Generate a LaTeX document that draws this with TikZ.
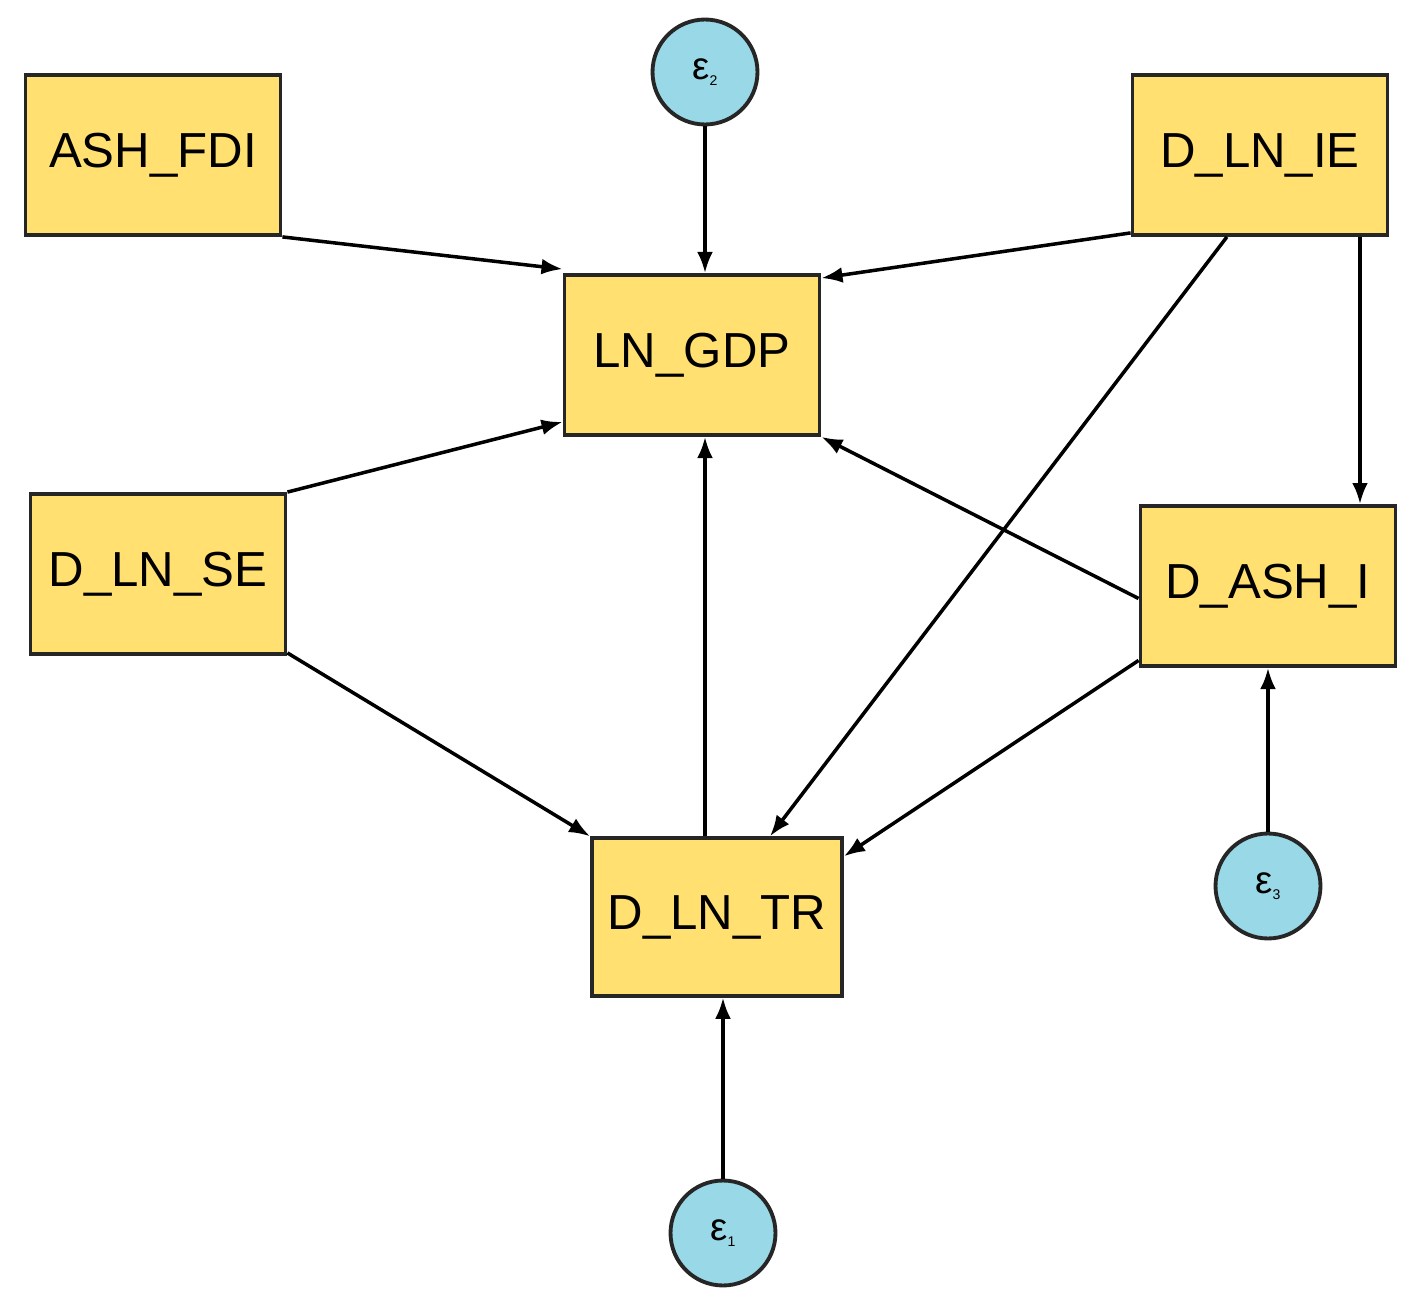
\documentclass[tikz,border=0pt]{standalone}
\usepackage{fontspec}
\setmainfont{Liberation Sans}
\usetikzlibrary{arrows.meta}
\begin{document}
\begin{tikzpicture}[x=0.02cm,y=-0.02cm,
 box/.style={draw=black!85,line width=2.2pt,fill={rgb,255:red,255;green,224;blue,112},minimum width=5.1cm,minimum height=3.2cm,inner sep=0pt,font=\fontsize{28}{32}\selectfont},
 err/.style={circle,draw=black!85,line width=2.2pt,fill={rgb,255:red,153;green,216;blue,230},minimum size=2.1cm,inner sep=0pt,font=\fontsize{22}{24}\selectfont},
 arr/.style={line width=2pt,-{Latex[length=12pt,width=9pt]}}]
\useasboundingbox (0,0) rectangle (1421,1304);
\node[box] (fdi) at (153,155) {ASH\_FDI};
\node[box] (gdp) at (692,355) {LN\_GDP};
\node[box] (ie) at (1260,155) {D\_LN\_IE};
\node[box] (se) at (158,574) {D\_LN\_SE};
\node[box] (ashi) at (1268,586) {D\_ASH\_I};
\node[box,minimum width=5.0cm,minimum height=3.15cm] (tr) at (717,917) {D\_LN\_TR};
\node[err] (e2) at (705,72) {ε\raisebox{-0.3ex}{\footnotesize 2}};
\node[err] (e3) at (1268,886) {ε\raisebox{-0.3ex}{\footnotesize 3}};
\node[err] (e1) at (723,1233) {ε\raisebox{-0.3ex}{\footnotesize 1}};
\draw[arr] (fdi.south east) -- ([yshift=0.08cm]gdp.north west);
\draw[arr] (e2) -- (gdp.north -| e2);
\draw[arr] ([yshift=0.08cm]ie.south west) -- ([yshift=-0.1cm]gdp.north east);
\draw[arr] (ie.248) -- (tr.north -| 770,0);
\draw[arr] (ie.south -| 1360,0) -- (ashi.north -| 1360,0);
\draw[arr] (se.north east) -- ([yshift=0.3cm]gdp.south west);
\draw[arr] ([yshift=0.06cm]se.south east) -- (tr.north west);
\draw[arr] ([yshift=-0.25cm]ashi.west) -- (gdp.south east);
\draw[arr] ([yshift=0.15cm]ashi.south west) -- ([yshift=-0.4cm]tr.north east);
\draw[arr] (tr.north -| 705,0) -- (gdp.south -| 705,0);
\draw[arr] (e1) -- (tr.south -| e1);
\draw[arr] (e3) -- (ashi.south -| e3);
\end{tikzpicture}
\end{document}
